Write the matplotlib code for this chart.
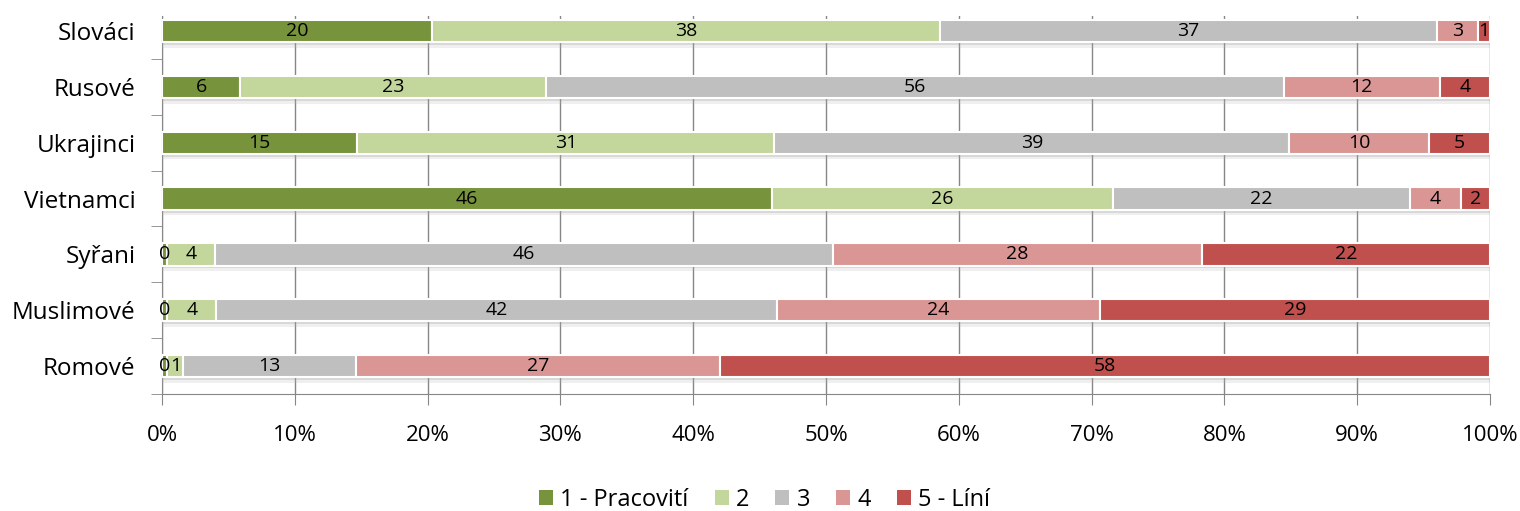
import matplotlib
matplotlib.use("Agg")
import matplotlib.pyplot as plt
import matplotlib.patheffects as pe
from matplotlib.patches import Patch
import numpy as np

# Data (percent share of answers)
groups = ["Slováci", "Rusové", "Ukrajinci", "Vietnamci", "Syřani", "Muslimové", "Romové"]
series_names = ["1 - Pracovití", "2", "3", "4", "5 - Líní"]
s1 = [20.3, 5.9, 14.7, 45.9, 0.4, 0.4, 0.4]
s2 = [38.3, 23.0, 31.4, 25.7, 3.6, 3.7, 1.2]
s3 = [37.4, 55.6, 38.8, 22.4, 46.5, 42.2, 13.0]
s4 = [3.1, 11.7, 10.5, 3.8, 27.8, 24.3, 27.4]
s5 = [0.9, 3.8, 4.6, 2.2, 21.7, 29.4, 58.0]
colors = ["#77933C", "#C3D69B", "#BFBFBF", "#D99694", "#C0504D"]
xticks = [0, 10, 20, 30, 40, 50, 60, 70, 80, 90, 100]

plt.rcParams['font.family'] = ['Open Sans', 'DejaVu Sans']

fig = plt.figure(figsize=(15.2, 5.11), dpi=100)
ax = fig.add_axes([162 / 1520, 1 - 394 / 511, 1328 / 1520, 378 / 511])

y = np.arange(len(groups))
left = np.zeros(len(groups))
# soft shadow under the bars
shadow = [pe.SimplePatchShadow(offset=(0, -2), shadow_rgbFace='#909090', alpha=0.25),
          pe.SimplePatchShadow(offset=(0, -4), shadow_rgbFace='#b0b0b0', alpha=0.2),
          pe.Normal()]
for name, vals, c in zip(series_names, [s1, s2, s3, s4, s5], colors):
    vals = np.array(vals)
    bars = ax.barh(y, vals, left=left, height=0.40, color=c, edgecolor='white',
                   linewidth=1.5, zorder=3)
    for b in bars:
        b.set_path_effects(shadow)
    for yi, l, v in zip(y, left, vals):
        ax.text(l + v / 2, yi, "%.0f" % v, ha='center', va='center', fontsize=14,
                color='black', zorder=4)
    left += vals

ax.set_xlim(0, 100)
ax.set_ylim(6.5, -0.27)
ax.set_xticks(xticks)
ax.set_xticklabels(["%d%%" % t for t in xticks], fontsize=16)
ax.set_yticks(y)
ax.set_yticklabels(groups, fontsize=17.5)
ax.set_yticks(np.arange(0.5, 6.6, 1), minor=True)
ax.tick_params(axis='y', which='major', length=0, pad=19)
ax.tick_params(axis='y', which='minor', length=8, color='#868686', direction='out')
ax.tick_params(axis='x', length=8, color='#868686', direction='out', pad=14)
ax.grid(axis='x', color='#868686', linewidth=1, zorder=0)
for s in ['top', 'right']:
    ax.spines[s].set_visible(False)
for s in ['left', 'bottom']:
    ax.spines[s].set_color('#868686')

handles = [Patch(facecolor=c, label=n) for n, c in zip(series_names, colors)]
fig.legend(handles=handles, loc='center', bbox_to_anchor=(0.503, 1 - 500 / 511), ncol=5,
           frameon=False, fontsize=17, handlelength=0.6, handleheight=0.6,
           handletextpad=0.3, columnspacing=1.1)

plt.savefig("out.png", dpi=100)
